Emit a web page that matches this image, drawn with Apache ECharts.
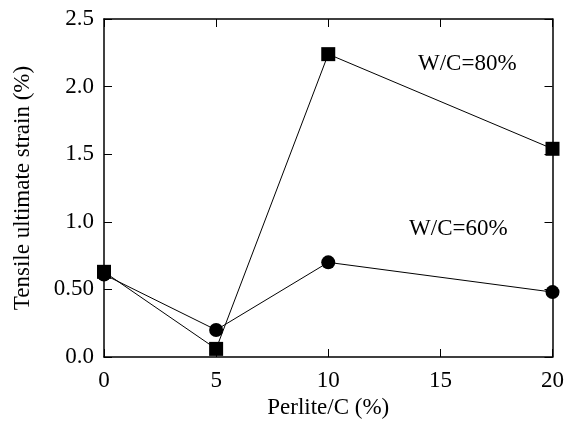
<!DOCTYPE html>
<html>
<head>
<meta charset="utf-8">
<script src="https://cdn.jsdelivr.net/npm/echarts@6/dist/echarts.min.js"></script>
<style>
  html, body {margin: 0; padding: 0; background: #fff;}
  #main {width: 567px; height: 432px;}
</style>
</head>
<body>
<div id="main"></div>
<script>
// 数据
let perlite = [0, 5, 10, 20];
let wc80 = [0.63, 0.06, 2.24, 1.54];
let wc60 = [0.61, 0.20, 0.70, 0.48];
let yTickLabels = ['0.0', '0.50', '1.0', '1.5', '2.0', '2.5'];
let xTickLabels = ['0', '5', '10', '15', '20'];

let font = 'Liberation Serif';

function pairs(xs, ys) {
    let out = [];
    for (let i = 0; i < xs.length; i++) {
        out.push([xs[i], ys[i]]);
    }
    return out;
}

// 图中文字标注
function note(text, coord) {
    return {
        symbol: 'circle', symbolSize: 2,
        itemStyle: {color: 'rgba(0,0,0,0)'},
        label: {show: true, position: 'inside', formatter: text, fontFamily: font, fontSize: 23, color: '#000'},
        data: [{coord: coord}]
    };
}

let myChart = echarts.init(document.getElementById('main'));
let tick = {show: true, inside: true, length: 8, lineStyle: {color: '#000', width: 1}};
let line = {show: true, onZero: false, lineStyle: {color: '#000', width: 1.5}};
let option = {
    animation: false,
    backgroundColor: '#fff',
    grid: {left: 104, right: 14, top: 19, bottom: 75},
    xAxis: [
        {
            type: 'value', min: 0, max: 20, interval: 5,
            name: 'Perlite/C (%)', nameLocation: 'middle', nameGap: 27,
            nameTextStyle: {fontFamily: font, fontSize: 23, color: '#000'},
            axisLine: line, axisTick: tick, splitLine: {show: false},
            axisLabel: {
                margin: 12, fontFamily: font, fontSize: 23, color: '#000',
                formatter: function (v) { return xTickLabels[Math.round(v / 5)]; }
            }
        },
        {
            type: 'value', min: 0, max: 20, interval: 5, position: 'top',
            axisLine: line, axisTick: tick, axisLabel: {show: false}, splitLine: {show: false}
        }
    ],
    yAxis: [
        {
            type: 'value', min: 0, max: 2.5, interval: 0.5,
            name: 'Tensile ultimate strain (%)', nameLocation: 'middle', nameGap: 70,
            nameTextStyle: {fontFamily: font, fontSize: 23, color: '#000'},
            axisLine: line, axisTick: tick, splitLine: {show: false},
            axisLabel: {
                margin: 10, fontFamily: font, fontSize: 23, color: '#000',
                formatter: function (v) { return yTickLabels[Math.round(v / 0.5)]; }
            }
        },
        {
            type: 'value', min: 0, max: 2.5, interval: 0.5, position: 'right',
            axisLine: line, axisTick: tick, axisLabel: {show: false}, splitLine: {show: false}
        }
    ],
    series: [
        {
            name: 'W/C=80%',
            type: 'line',
            data: pairs(perlite, wc80),
            symbol: 'rect', symbolSize: 14,
            clip: false,
            itemStyle: {color: '#000'},
            lineStyle: {color: '#000', width: 1},
            markPoint: note('W/C=80%', [16.2, 2.17])
        },
        {
            name: 'W/C=60%',
            type: 'line',
            data: pairs(perlite, wc60),
            symbol: 'circle', symbolSize: 14,
            clip: false,
            itemStyle: {color: '#000'},
            lineStyle: {color: '#000', width: 1},
            markPoint: note('W/C=60%', [15.8, 0.95])
        }
    ]
};
myChart.setOption(option);
</script>
</body>
</html>
